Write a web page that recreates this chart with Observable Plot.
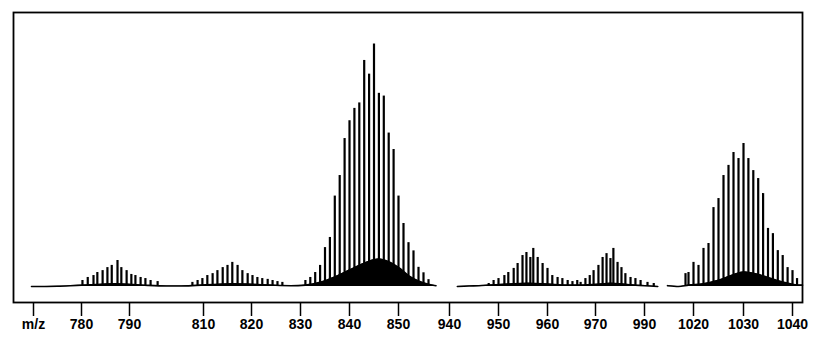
<!DOCTYPE html>
<html><head><meta charset="utf-8">
<script src="https://cdn.jsdelivr.net/npm/d3@7"></script>
<script src="https://cdn.jsdelivr.net/npm/@observablehq/plot@0.6"></script>
<style>body{margin:0;background:#fff}</style>
</head><body><div id="chart"></div>
<script>
// Tick marks and their printed labels (the first tick carries the "m/z" axis name)
const tickValues = [770, 780, 790, 810, 820, 830, 840, 850, 940, 950, 960, 970, 990, 1020, 1030, 1040];
const tickLabels = ["m/z", "780", "790", "810", "820", "830", "840", "850", "940", "950", "960", "970", "990", "1020", "1030", "1040"];

// Peak lists [m/z, relative intensity]
const peaks780 = [[780.2,2.2],[781.3,3.3],[782.5,4],[783.3,5.1],[784.4,5.8],[785.4,6.9],[786.3,7.7],[787.5,9.5],[788.3,6.9],[789.4,5.8],[790.5,4.4],[791.6,4],[793,3.3],[794.3,2.9],[795.7,2.2],[797.6,1.8]];
const peaks815 = [[807,1.5],[808.4,2.2],[809.7,2.9],[810.8,4],[811.9,4.7],[812.9,5.8],[814,6.9],[815,7.7],[816,8.8],[817.1,7.7],[818.1,5.8],[819.2,4.7],[820.2,4],[821.2,3.3],[822.2,2.9],[823.3,2.6],[824.3,2.2],[825.3,1.8],[826.3,1.5]];
const peaks845 = [[831,2.2],[832,3.3],[833,5.1],[834,7.7],[835,14.2],[836,17.9],[837,33],[838,40.5],[839,54],[840,60.5],[841,65],[842,67],[843,82.5],[844,77.5],[845,88.5],[846,70.5],[847,69.5],[848,56],[849,50],[850,33],[851,23],[852,16],[853,13],[854,7],[855,5],[856,2.5]];
const peaks955 = [[948,1.1],[949,2.2],[950,2.9],[951.2,4],[952,5.1],[953.1,6.6],[953.9,8.4],[954.9,11.3],[955.7,12.4],[956.5,10.6],[957.1,13.9],[958,10.6],[959,8.4],[960,6.6],[961,4],[962.1,3.3],[963.1,2.9],[964.2,2.2],[965.2,1.8],[966.2,2.2]];
const peaks975 = [[966.9,1.5],[967.9,2.9],[968.8,4],[969.6,5.8],[971.2,7.7],[972.9,10.6],[974.5,12],[976.1,10.2],[977.3,13.9],[979,8.8],[980.6,6.9],[982.2,4.7],[984.3,3.3],[986.3,2.9],[988.4,2.2],[991.2,1.5],[993.7,1.1]];
const peaks1030 = [[1018.4,4.7],[1019,5.1],[1020,8.8],[1021,7.7],[1022,13.9],[1023,15.7],[1024,28.8],[1025,32.1],[1026,40.5],[1027,44.2],[1028,48.9],[1029,46.7],[1030,52.2],[1031,46.7],[1032,42.3],[1033,39.4],[1034,33.9],[1035,21.2],[1036,19.3],[1037,13.1],[1038,11.3],[1039,6.9],[1040,5.8],[1041,2.9]];

// Baseline / unresolved hump traces, one per recorded segment [m/z, level]
const base1 = [[769.6,0],[775,0.1],[779,0.4],[783,0.7],[787,1],[791,0.7],[795,0.4],[800,0.2],[804,0.2],[808,0.4],[812,0.7],[816,1],[820,0.8],[824,0.5],[828,0.3],[831,0.5],[834,1.5],[837,3.5],[840,6],[843,8.5],[846,10],[848,9],[850,7],[852,4],[854,2],[856,0.8],[857.5,0.3]];
const base2 = [[941.6,0],[944,0.2],[946,0.3],[948,0.5],[952,0.9],[956,1.2],[960,0.9],[964,0.5],[967,0.5],[972,0.9],[976,1.2],[982,0.8],[988,0.4],[992,0.2],[995.3,0]];
const base3 = [[1014.8,0.3],[1017,0],[1019,0.5],[1022,1],[1025,2.3],[1028,4.3],[1030,5.3],[1032,4.8],[1035,3.3],[1038,1.6],[1040,0.8],[1041.5,0.5],[1042.2,0.5]];

const peaks = [peaks780, peaks815, peaks845, peaks955, peaks975, peaks1030]
  .flat().map(([mz, h]) => ({mz, h}));
const baseline = [base1, base2, base3]
  .flatMap((arr, i) => arr.map(([mz, v]) => ({mz, v, seg: i})));

const labelOf = d => tickLabels[tickValues.indexOf(d)];

const chart = Plot.plot({
  width: 819,
  height: 348,
  marginTop: 12,
  marginLeft: 13,
  marginRight: 17,
  marginBottom: 46,
  style: {fontFamily: "'Liberation Sans', Arial, sans-serif", fontSize: "14px", fontWeight: "bold", color: "#000", background: "#fff"},
  x: {
    // hand-drawn, broken m/z axis: piecewise mapping through the printed ticks
    type: "linear",
    domain: [766, 770, 780, 790, 810, 820, 830, 840, 850, 858, 938, 940, 950, 960, 970, 990, 996, 1014, 1020, 1030, 1040, 1042.2],
    range:  [13, 33, 81, 129, 203, 251, 300, 349, 398, 438, 440, 449, 498, 547, 595, 644, 659, 663, 693, 743, 792, 802],
    axis: null
  },
  y: {type: "linear", domain: [0, 100], range: [286, 12], axis: null},
  marks: [
    Plot.areaY(baseline, {x: "mz", y: "v", z: "seg", fill: "#000", curve: "monotone-x"}),
    Plot.ruleX(peaks, {x: "mz", y1: 0, y2: "h", stroke: "#000", strokeWidth: 2.2}),
    Plot.lineY(baseline, {x: "mz", y: "v", z: "seg", stroke: "#000", strokeWidth: 1.6, curve: "monotone-x"}),
    Plot.frame({stroke: "#000", strokeWidth: 1.8}),
    Plot.axisX(tickValues, {label: null, tickSize: 14, tickPadding: 3, tickFormat: labelOf, stroke: "#000", strokeWidth: 1.5, fill: "#000"})
  ]
});
document.getElementById("chart").appendChild(chart);
</script>
</body></html>
